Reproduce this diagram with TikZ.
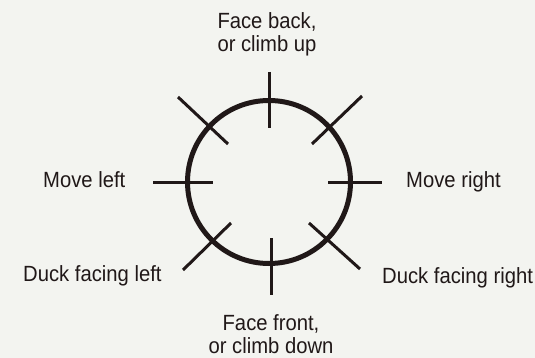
\documentclass[tikz,border=0pt]{standalone}
\usepackage{fontspec}
\setmainfont{Liberation Sans}[FakeStretch=0.92]
\definecolor{paper}{RGB}{243,244,240}
\definecolor{ink}{RGB}{32,24,24}
\begin{document}
\begin{tikzpicture}[x=1pt,y=-1pt,
  lbl/.style={font=\fontsize{22}{23}\selectfont, text=ink, inner sep=0pt, align=center},
  tick/.style={draw=ink, line width=3pt},
  dialring/.style={circle, draw=ink, line width=5pt, minimum size=163pt, inner sep=0pt}]
\fill[paper] (0,0) rectangle (535,358);
\useasboundingbox (0,0) rectangle (535,358);
\node[dialring] (dial) at (269,182) {};
\draw[tick] (269,72) -- (269,128);
\draw[tick] (271,238) -- (271,295);
\draw[tick] (153,183) -- (213,183);
\draw[tick] (328,183) -- (382,183);
\draw[tick] (178,97) -- (228,144);
\draw[tick] (362,96) -- (312,144);
\draw[tick] (183,270) -- (231,223);
\draw[tick] (360,269) -- (309,223);
\node[lbl, anchor=base] (up) at (267,52) {Face back,\\or climb up};
\node[lbl, anchor=base] (down) at (271,353) {Face front,\\or climb down};
\node[lbl, anchor=base west] (left) at (43,188) {Move left};
\node[lbl, anchor=base west] (right) at (406,188) {Move right};
\node[lbl, anchor=base west] (dleft) at (23,281) {Duck facing left};
\node[lbl, anchor=base west] (dright) at (382,283) {Duck facing right};
\end{tikzpicture}
\end{document}
